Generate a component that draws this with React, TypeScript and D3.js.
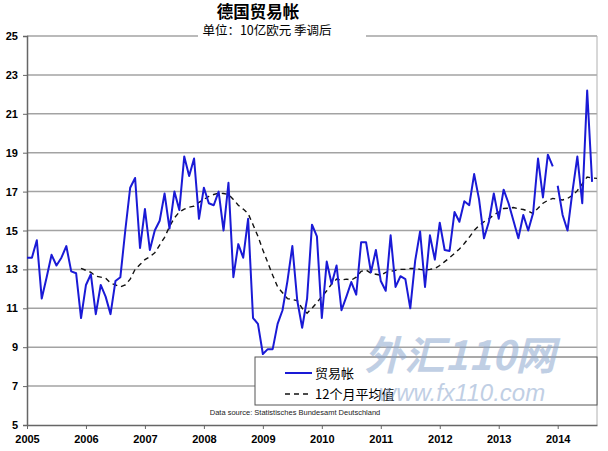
import { useEffect, useRef } from "react"
import * as d3 from "d3"

const W = 608
const H = 451
const M = { top: 36, right: 11, bottom: 26, left: 27 }

const years = ["2005", "2006", "2007", "2008", "2009", "2010", "2011", "2012", "2013", "2014"]
const yTicks = [5, 7, 9, 11, 13, 15, 17, 19, 21, 23, 25]

// monthly trade balance, Jan 2005 .. Aug 2014 (bn EUR, sa)
const tradeBalance = [
  13.6, 13.6, 14.5, 11.5, 12.6, 13.75, 13.2, 13.6, 14.2, 12.9, 12.8, 10.5,
  12.2, 12.75, 10.7, 12.2, 11.6, 10.7, 12.4, 12.6, 15.0, 17.2, 17.7, 14.1,
  16.1, 14.0, 15.0, 15.5, 16.9, 15.1, 17.0, 16.05, 18.8, 17.8, 18.7, 15.6,
  17.2, 16.4, 16.3, 17.0, 15.0, 17.45, 12.6, 14.3, 13.6, 15.6, 10.5, 10.2,
  8.65, 8.9, 8.9, 10.2, 10.9, 12.4, 14.2, 11.4, 10.0, 11.5, 15.3, 14.7,
  10.5, 13.4, 12.25, 13.2, 10.9, 11.6, 12.35, 11.7, 14.4, 14.4, 12.85, 14.0,
  12.4, 11.9, 14.75, 12.1, 12.65, 12.5, 11.0, 13.45, 14.95, 12.1, 14.75, 13.5,
  15.4, 14.0, 13.95, 15.95, 15.45, 16.5, 16.3, 17.9, 16.6, 14.6, 15.45, 16.9,
  15.6, 17.1, 16.4, 15.5, 14.6, 15.8, 15.0, 15.9, 18.7, 16.7, 18.9, 18.3,
  17.3, 15.8, 15.0, 17.0, 18.8, 16.4, 22.2, 17.5,
]
// the blue line is not joined between Dec 2013 and Jan 2014
const lineBreaks = [108]

// 12-month average, Dec 2005 .. Sep 2014
const avgStart = 11
const movingAvg12 = [
  13.05,
  12.95, 12.85, 12.65, 12.6, 12.55, 12.3, 12.2, 12.1, 12.2, 12.5, 13.0, 13.25,
  13.5, 13.65, 13.85, 14.25, 14.65, 15.2, 15.65, 15.95, 16.1, 16.2, 16.25, 16.45,
  16.6, 16.75, 16.85, 16.92, 16.9, 16.85, 16.6, 16.3, 16.1, 15.87, 15.3, 14.7,
  14.0, 13.35, 12.7, 12.1, 11.8, 11.5, 11.45, 11.4, 11.0, 10.75, 11.0, 11.3,
  11.6, 11.9, 12.25, 12.5, 12.45, 12.5, 12.45, 12.6, 12.9, 12.97, 12.8, 12.75,
  12.7, 12.85, 12.9, 12.95, 13.0, 13.0, 13.05, 13.05, 13.0, 12.97, 13.0, 13.05,
  13.2, 13.4, 13.6, 13.82, 14.05, 14.33, 14.65, 15.0, 15.25, 15.45, 15.6, 15.8,
  15.95, 16.13, 16.15, 16.18, 16.12, 16.08, 16.0, 15.87, 16.15, 16.4, 16.55, 16.65,
  16.6, 16.57, 16.65, 16.8, 17.05, 17.4, 17.75, 17.7, 17.68,
]

const cjk = "'Noto Sans CJK SC', sans-serif"
const latin = "'Liberation Sans', Arial, sans-serif"

export default function App() {
  const ref = useRef<SVGSVGElement>(null)

  useEffect(() => {
    const svg = d3.select(ref.current)
    svg.selectAll("*").remove()

    const nMonths = movingAvg12.length + avgStart
    const x = d3.scaleLinear().domain([0, nMonths - 1]).range([M.left, W - M.right])
    const y = d3.scaleLinear().domain([5, 25]).range([H - M.bottom, M.top])

    svg.append("rect").attr("width", W).attr("height", H).attr("fill", "#fff")

    // gridlines
    svg.append("g")
      .selectAll("line")
      .data(yTicks.filter((d) => d > 5))
      .join("line")
      .attr("x1", M.left).attr("x2", W - M.right)
      .attr("y1", (d) => y(d)).attr("y2", (d) => y(d))
      .attr("stroke", "#a3a3a3").attr("stroke-width", 1.5)

    // right border
    svg.append("line")
      .attr("x1", W - M.right).attr("x2", W - M.right)
      .attr("y1", y(25)).attr("y2", y(5))
      .attr("stroke", "#b0b0b0").attr("stroke-width", 1)

    // y axis
    const yAxis = svg.append("g")
      .attr("transform", `translate(${M.left},0)`)
      .call(d3.axisLeft(y).tickValues(yTicks).tickSize(4).tickPadding(5).tickFormat(d3.format("d")))
    yAxis.select(".domain").attr("stroke", "#666").attr("stroke-width", 1.5)
    yAxis.selectAll(".tick line").attr("stroke", "#666")
    yAxis.selectAll("text")
      .attr("font-family", latin).attr("font-size", 11).attr("font-weight", "bold").attr("fill", "#000")

    // x axis
    const xAxis = svg.append("g")
      .attr("transform", `translate(0,${y(5)})`)
      .call(
        d3.axisBottom(x)
          .tickValues(years.map((_, i) => i * 12))
          .tickSize(4).tickPadding(6).tickSizeOuter(0)
          .tickFormat((_, i) => years[i]),
      )
    xAxis.select(".domain").attr("stroke", "#666").attr("stroke-width", 1.5)
    xAxis.selectAll(".tick line").attr("stroke", "#666")
    xAxis.selectAll("text")
      .attr("font-family", latin).attr("font-size", 11).attr("font-weight", "bold").attr("fill", "#000")

    // moving average
    const avgLine = d3.line<number>()
      .x((_, i) => x(i + avgStart))
      .y((d) => y(d))
    svg.append("path")
      .attr("d", avgLine(movingAvg12))
      .attr("fill", "none").attr("stroke", "#111").attr("stroke-width", 1.4)
      .attr("stroke-dasharray", "5,4")

    // trade balance, split at the breaks
    const bounds = [0, ...lineBreaks, tradeBalance.length]
    const tbLine = d3.line<[number, number]>()
      .x((d) => x(d[0]))
      .y((d) => y(d[1]))
    for (let s = 0; s < bounds.length - 1; s++) {
      const seg: [number, number][] = []
      for (let i = bounds[s]; i < bounds[s + 1]; i++) seg.push([i, tradeBalance[i]])
      svg.append("path")
        .attr("d", tbLine(seg))
        .attr("fill", "none").attr("stroke", "#1a1ad6").attr("stroke-width", 2)
        .attr("stroke-linejoin", "round")
    }

    // title
    svg.append("text")
      .attr("x", 258).attr("y", 18)
      .attr("text-anchor", "middle").attr("font-family", cjk)
      .attr("font-size", 16.5).attr("font-weight", "bold").attr("fill", "#000")
      .text("德国贸易帐")
    svg.append("rect")
      .attr("x", 198).attr("y", 27).attr("width", 168).attr("height", 15)
      .attr("fill", "#fff")
    svg.append("text")
      .attr("x", 267).attr("y", 35)
      .attr("text-anchor", "middle").attr("font-family", cjk)
      .attr("font-size", 12.5).attr("fill", "#000")
      .text("单位：10亿欧元 季调后")

    // legend
    const lg = svg.append("g").attr("transform", "translate(255,357)")
    lg.append("rect")
      .attr("width", W - M.right - 255).attr("height", 48)
      .attr("fill", "#fff").attr("stroke", "#555").attr("stroke-width", 1)
    lg.append("line")
      .attr("x1", 30).attr("x2", 57).attr("y1", 16).attr("y2", 16)
      .attr("stroke", "#1a1ad6").attr("stroke-width", 2)
    lg.append("text")
      .attr("x", 60).attr("y", 16).attr("dy", "0.35em")
      .attr("font-family", cjk).attr("font-size", 13).attr("fill", "#000")
      .text("贸易帐")
    lg.append("line")
      .attr("x1", 30).attr("x2", 57).attr("y1", 37).attr("y2", 37)
      .attr("stroke", "#111").attr("stroke-width", 1.4).attr("stroke-dasharray", "5,4")
    lg.append("text")
      .attr("x", 60).attr("y", 37).attr("dy", "0.35em")
      .attr("font-family", cjk).attr("font-size", 13).attr("fill", "#000")
      .text("12个月平均值")

    // source
    svg.append("text")
      .attr("x", 295).attr("y", 415)
      .attr("text-anchor", "middle").attr("font-family", latin)
      .attr("font-size", 7.5).attr("fill", "#222")
      .text("Data source: Statistisches Bundesamt Deutschland")

    // watermark
    const wm = svg.append("g").attr("fill", "#8ea8cf").attr("opacity", 0.55)
    wm.append("text")
      .attr("x", 460).attr("y", 370)
      .attr("text-anchor", "middle").attr("font-family", cjk)
      .attr("font-size", 40).attr("font-weight", "bold").attr("font-style", "italic")
      .text("外汇110网")
    wm.append("text")
      .attr("x", 462).attr("y", 401)
      .attr("text-anchor", "middle").attr("font-family", latin)
      .attr("font-size", 24).attr("font-style", "italic")
      .text("www.fx110.com")
  }, [])

  return (
    <div style={{ position: "absolute", left: 0, top: 0 }}>
      <svg ref={ref} width={W} height={H} viewBox={`0 0 ${W} ${H}`} style={{ display: "block" }} />
    </div>
  )
}
